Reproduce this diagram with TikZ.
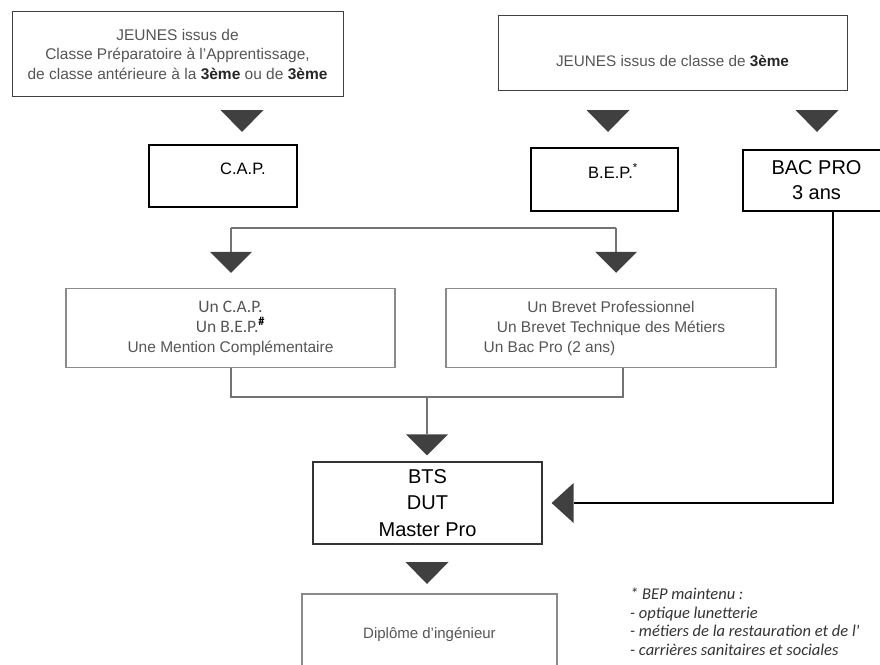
\documentclass[tikz,border=0pt]{standalone}
\usepackage{fontspec}
\setmainfont{Liberation Sans}
\newfontfamily\calibri{Carlito}
\usetikzlibrary{arrows.meta,positioning}
\definecolor{tridark}{HTML}{404040}
\definecolor{txtgrey}{HTML}{555555}
\definecolor{boxgrey}{HTML}{8A8A8A}
\tikzstyle{entry}=[draw=black!75, line width=1pt, text=txtgrey, align=center, inner sep=0pt]
\tikzstyle{dipl}=[draw=black, line width=2pt, align=center, inner sep=0pt]
\tikzstyle{route}=[draw=boxgrey, line width=1.5pt, text=txtgrey, align=center, inner sep=0pt]
\tikzstyle{link}=[draw=black!55, line width=1.5pt]
\tikzstyle{bigtip}=[-{Triangle[length=21pt,width=42pt,line width=0pt,color=tridark]}]
\tikzset{tridown/.pic={\fill[tridark] (-21.5,0) -- (21.5,0) -- (0,22) -- cycle;}}

\begin{document}
\begin{tikzpicture}[x=1pt,y=-1pt]
\useasboundingbox (0,0) rectangle (880,664);
\clip (0,0) rectangle (880,664);

% publics
\node[entry, minimum width=331pt, minimum height=85pt, font=\fontsize{15.5}{19.5}\selectfont] (young1) at (177.5,54)
  {JEUNES issus de\\Classe Préparatoire à l'Apprentissage,\\de classe antérieure à la \textbf{\color{black!85}3ème} ou de \textbf{\color{black!85}3ème}};
\node[entry, minimum width=349pt, minimum height=75pt, text height=28pt, text depth=0pt, font=\fontsize{15.3}{16}\selectfont] (young2) at (672.5,52.5)
  {JEUNES issus de classe de \textbf{\color{black!85}3ème}};

\pic at (242,110) {tridown};
\pic at (608,110) {tridown};
\pic at (817,110) {tridown};

% premiers diplomes
\node[dipl, minimum width=148pt, minimum height=62pt, text height=11pt, text depth=14pt, font=\fontsize{16.5}{18}\selectfont] (cap) at (223,176) {\hspace*{40pt}C.A.P.};
\node[dipl, minimum width=147pt, minimum height=63pt, text height=11pt, text depth=14pt, font=\fontsize{16.5}{18}\selectfont] (bep) at (604,179.5) {\hspace*{18pt}B.E.P.\textsuperscript{*}};
\node[dipl, minimum width=147pt, minimum height=61pt, font=\fontsize{20}{25}\selectfont] (bac) at (816.5,180.5) {BAC PRO\\3 ans};

% poursuites
\coordinate (forkL) at (231,228);
\coordinate (forkR) at (616,228);
\node[route, minimum width=329pt, minimum height=79pt, font=\fontsize{15.5}{20}\selectfont] (midL) at (230.5,328)
  {{\calibri\fontsize{17.5}{20}\selectfont Un C.A.P.}\\{\calibri\fontsize{17.5}{20}\selectfont Un B.E.P.\textsuperscript{\textbf{\color{black}\#}}}\\Une Mention Complémentaire};
\node[route, minimum width=330pt, minimum height=79pt, font=\fontsize{15.5}{20}\selectfont] (midR) at (611,328)
  {Un Brevet Professionnel\\Un Brevet Technique des Métiers\\Un Bac Pro (2 ans)\hspace*{123pt}};
\draw[link] (forkL) -- (forkR);
\draw[link, bigtip, shorten >=15pt] (forkL) -- (forkL |- midL.north);
\draw[link, bigtip, shorten >=15pt] (forkR) -- (forkR |- midR.north);

\coordinate (merge) at (427,397);
\draw[link] (midL.south -| forkL) |- (merge) -| ([xshift=12pt]midR.south);
\node[draw=black!80, line width=1.2pt, minimum width=229pt, minimum height=82pt, align=center, inner sep=0pt,
  font=\fontsize{20}{26.5}\selectfont] (bts) at (427.5,503) {BTS\\DUT\\Master Pro};
\draw[link, bigtip, shorten >=6pt] (merge) -- (merge |- bts.north);
\draw[line width=2pt, -{Triangle[length=22pt,width=40pt,line width=0pt,color=tridark]}, shorten >=9pt]
  ([xshift=16.5pt]bac.south) |- (bts.east);

\pic at (427,562) {tridown};
\node[route, anchor=north, minimum width=255pt, minimum height=107pt, text height=11pt, text depth=29pt, font=\fontsize{15}{16}\selectfont] (inge) at (429.5,593)
  {Diplôme d'ingénieur};

% renvoi
\node[anchor=north west, align=left, inner sep=0pt, text=black!80, font=\calibri\itshape\fontsize{16.5}{18.5}\selectfont] (note) at (630,588)
  {* BEP maintenu :\\- optique lunetterie\\- métiers de la restauration et de l'\\- carrières sanitaires et sociales};
\end{tikzpicture}
\end{document}
